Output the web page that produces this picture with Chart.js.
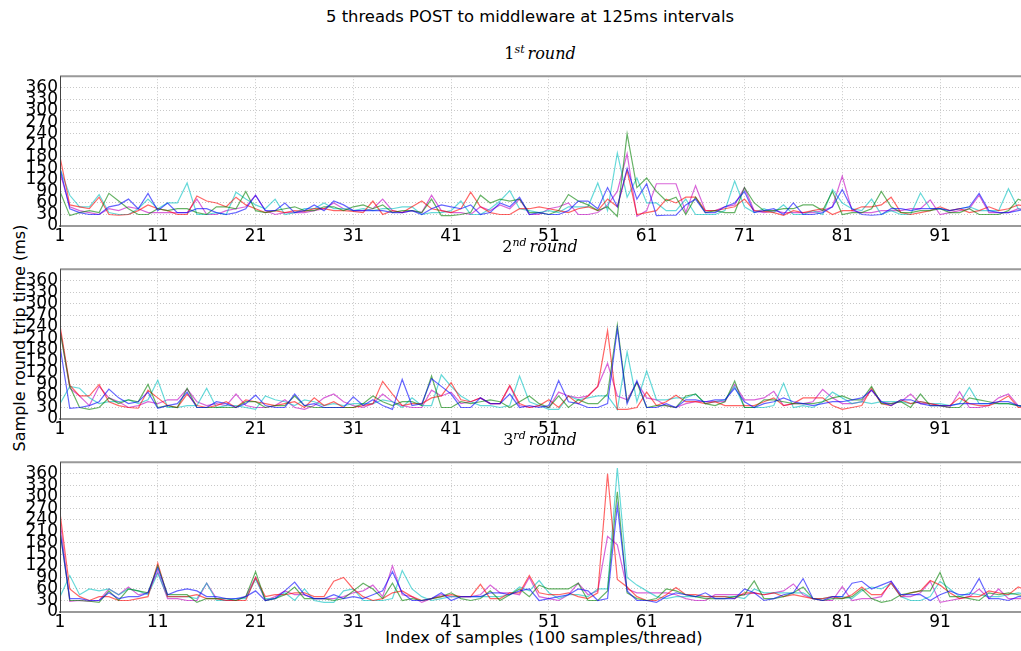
<!DOCTYPE html>
<html>
<head>
<meta charset="utf-8">
<script src="https://cdn.jsdelivr.net/npm/chart.js@4/dist/chart.umd.min.js"></script>
<style>
html,body{margin:0;padding:0;width:1021px;height:651px;overflow:hidden;background:#fff;}
.t{position:absolute;white-space:nowrap;color:#000;font-family:"DejaVu Sans",sans-serif;}
.sub{position:absolute;white-space:nowrap;color:#000;font-family:"DejaVu Serif",serif;font-size:16px;transform:translateX(-50%);}
.sub i{font-style:italic;}
.sub sup{font-size:11px;font-style:italic;vertical-align:6px;margin-right:3px;}
.wrap{position:absolute;left:0;width:1028px;}
</style>
</head>
<body>
<script>
// ---------- data ----------
const sampleIndex = Array.from({length:100},(_,i)=>i+1);
const xTickValues = [1,11,21,31,41,51,61,71,81,91];
const yTickValues = [0,30,60,90,120,150,180,210,240,270,300,330,360];
const roundTitles = ["1","2","3"];
const roundSuffix = ["st","nd","rd"];

// round 1
const r1_blue = [150,45,35,30,30,50,55,70,45,85,40,60,35,35,45,45,35,30,35,45,80,40,40,60,35,40,55,40,65,55,40,40,40,40,35,35,40,30,45,55,50,45,55,30,35,60,50,75,30,35,30,30,40,65,65,45,100,50,150,70,110,27,28,28,55,70,35,35,50,60,90,35,40,45,30,60,30,30,35,50,95,45,30,28,30,45,45,40,45,45,45,40,45,50,85,40,35,35,40,45];
const r1_green = [90,27,35,40,35,85,65,45,30,30,45,40,45,45,35,30,50,50,45,90,40,35,40,45,50,40,40,50,50,40,50,55,45,55,35,40,40,35,70,27,27,30,35,80,60,70,65,70,35,35,30,40,82,65,55,40,50,25,240,100,125,90,65,75,30,75,35,40,35,35,100,60,40,40,45,45,55,55,40,90,30,35,35,45,90,50,35,35,40,40,45,35,35,45,30,30,30,40,70,60];
const r1_red = [180,55,50,45,75,30,28,30,40,55,45,40,30,30,78,65,60,50,75,55,45,35,40,35,40,38,45,45,40,40,38,35,65,30,40,35,50,65,45,40,35,45,88,50,35,30,30,45,45,50,45,40,35,45,50,40,70,50,145,30,35,40,70,60,75,75,40,40,45,50,70,40,38,35,28,40,35,40,45,30,40,40,50,50,55,75,35,30,35,40,50,40,45,35,40,50,40,45,55,50];
const r1_cyan = [150,80,50,50,82,35,30,30,45,70,45,60,60,112,30,30,35,30,88,70,55,45,70,30,35,45,45,60,45,45,40,45,40,45,45,50,50,30,35,35,40,65,30,30,45,65,92,45,40,35,40,35,50,50,50,112,40,190,75,125,60,60,40,40,70,30,30,30,40,117,50,35,45,35,55,30,30,40,30,95,60,45,40,70,30,40,30,30,86,45,45,40,45,50,40,40,40,97,45,40];
const r1_magenta = [140,50,40,35,30,45,40,50,45,35,35,35,35,35,70,30,30,40,45,50,80,40,30,35,35,35,40,45,60,45,40,40,45,70,40,35,40,35,80,40,35,35,30,50,40,55,45,70,30,30,45,50,60,30,30,35,55,90,188,25,40,110,110,110,35,105,40,40,50,55,100,40,35,40,35,35,35,35,40,50,130,40,35,35,40,40,40,45,45,68,30,35,40,45,80,35,35,35,45,40];

// round 2
const r2_blue = [190,28,30,35,45,78,55,40,45,70,28,35,40,70,30,30,45,40,30,40,62,35,30,30,65,35,40,30,30,30,58,35,50,35,25,103,35,40,105,85,65,30,30,55,40,40,65,30,35,30,35,100,45,40,30,30,40,235,40,100,30,30,40,30,50,50,45,50,50,80,45,30,40,45,55,45,40,35,40,45,45,50,55,75,45,35,50,50,40,35,35,35,40,40,40,40,45,45,35,30];
const r2_green = [230,85,30,25,30,55,40,50,45,90,30,35,30,80,30,30,30,30,30,45,45,30,35,35,60,35,30,30,30,30,30,40,60,45,35,45,45,35,112,30,30,45,40,45,50,45,30,45,60,40,30,60,30,50,40,40,65,245,45,95,30,35,35,30,60,65,40,35,45,99,30,30,50,50,45,40,40,40,45,55,60,50,50,85,40,40,45,30,65,35,35,30,30,55,50,45,40,40,35,30];
const r2_red = [244,88,60,60,90,45,35,30,28,75,55,35,30,65,35,30,35,45,30,50,45,40,35,40,45,30,55,35,45,30,30,35,40,98,65,35,40,40,55,60,95,50,45,55,40,40,88,40,30,35,50,30,60,40,60,85,230,25,25,30,70,35,45,62,45,45,40,45,35,35,35,35,45,55,35,40,55,55,55,35,25,30,35,80,40,35,50,40,45,40,35,35,55,40,35,35,45,60,30,30];
const r2_cyan = [40,85,80,55,40,45,45,50,40,50,101,30,30,35,35,80,30,35,35,30,25,60,50,45,35,50,45,35,40,35,40,40,40,50,45,30,55,35,35,115,85,60,45,35,35,30,35,112,45,35,25,25,60,50,55,60,60,25,175,45,125,50,50,55,55,65,40,45,50,85,30,30,30,35,93,30,35,30,45,70,55,40,45,40,45,45,45,40,45,40,40,35,40,82,40,40,40,40,35,35];
const r2_magenta = [235,80,60,35,85,55,45,30,35,45,40,50,50,78,45,35,40,35,65,35,30,30,35,50,30,25,35,55,65,45,35,30,40,65,45,35,30,30,75,60,70,40,45,55,40,40,85,35,30,35,30,70,60,55,60,85,145,60,50,95,55,50,35,30,40,45,45,45,45,90,50,50,55,72,35,40,40,45,77,55,40,40,45,75,45,40,45,65,40,40,35,30,71,30,30,35,55,65,35,30];

// round 3
const r3_blue = [210,35,35,30,30,50,35,40,40,50,115,45,55,60,55,40,40,35,35,40,55,30,35,55,78,45,35,35,45,35,40,35,45,55,105,50,30,30,35,50,30,40,40,40,50,50,45,55,60,30,35,40,45,60,55,30,35,277,55,30,30,25,40,50,45,40,50,35,35,35,60,50,30,35,45,50,87,35,30,40,40,75,80,60,70,80,45,45,45,30,45,55,45,45,87,35,35,30,40,40];
const r3_green = [210,30,30,28,25,55,30,60,55,50,120,45,45,45,25,35,35,35,30,40,105,30,35,45,65,35,35,35,30,35,55,75,60,35,75,30,35,30,35,40,50,35,30,35,55,30,45,60,40,70,60,60,60,75,30,30,55,313,50,35,30,35,60,55,45,40,35,35,35,40,45,81,35,35,40,50,65,35,30,35,35,40,60,35,25,30,45,50,55,55,103,40,40,35,30,50,45,50,45,40];
const r3_red = [259,60,40,30,40,40,30,30,35,40,127,40,40,40,45,35,35,30,30,30,90,40,45,45,50,50,40,40,80,90,60,40,30,35,50,55,40,30,35,40,45,40,40,72,35,35,50,50,95,50,45,45,50,40,35,50,360,85,65,40,30,30,45,64,45,45,40,40,40,35,50,50,45,50,40,45,40,35,35,40,35,45,65,45,45,75,40,50,55,82,70,50,35,40,40,55,50,45,65,55];
const r3_cyan = [40,95,45,60,55,60,45,60,55,45,100,40,40,40,35,75,30,30,35,35,85,35,35,50,30,60,30,25,25,55,60,30,30,30,35,108,60,40,30,35,40,40,40,40,40,40,45,65,55,82,50,35,45,45,40,60,60,375,90,70,55,40,35,40,40,40,40,40,40,40,35,60,50,50,50,50,50,35,35,40,40,35,55,65,60,75,40,30,30,40,80,60,40,50,45,40,40,45,50,45];
const r3_magenta = [240,28,30,28,30,60,45,65,45,50,105,35,35,30,30,75,35,30,30,40,90,30,40,55,45,45,35,35,35,40,50,55,70,40,120,45,40,25,35,45,40,40,40,45,70,50,50,45,90,40,35,30,45,75,45,55,197,175,60,50,50,50,50,45,35,30,30,45,45,45,45,50,45,50,55,73,45,35,30,30,66,30,35,35,40,80,40,40,50,80,25,30,35,40,60,35,60,35,35,35];

// ---------- layout / style ----------
const seriesColors = ["rgba(0,0,255,0.6)","rgba(0,128,0,0.6)","rgba(255,0,0,0.6)","rgba(0,191,191,0.6)","rgba(191,0,191,0.6)"];
const rounds = [
  [r1_blue,r1_green,r1_red,r1_cyan,r1_magenta],
  [r2_blue,r2_green,r2_red,r2_cyan,r2_magenta],
  [r3_blue,r3_green,r3_red,r3_cyan,r3_magenta]
];
const plotTops = [65,258,451];
const plotH = 161;
const tickFont = {family:"DejaVu Sans", size:17};

function addText(cls, html, style){
  const d=document.createElement('div');
  d.className=cls; d.innerHTML=html;
  Object.assign(d.style, style);
  document.body.appendChild(d);
  return d;
}

addText('t','5 threads POST to middleware at 125ms intervals',{left:'530px',top:'7px',fontSize:'16.4px',transform:'translateX(-50%)'});
addText('t','Index of samples (100 samples/thread)',{left:'544px',top:'628px',fontSize:'16.2px',transform:'translateX(-50%)'});
addText('t','Sample round trip time (ms)',{left:'19px',top:'338px',fontSize:'16px',transform:'translate(-50%,-50%) rotate(-90deg)'});

const framePlugin = {
  id:'frame',
  afterDraw(chart){
    const {ctx, chartArea:a} = chart;
    ctx.save();
    ctx.strokeStyle='#999'; ctx.lineWidth=2;
    ctx.beginPath(); ctx.moveTo(a.left, a.top); ctx.lineTo(a.right, a.top); ctx.stroke();
    ctx.strokeStyle='#444'; ctx.lineWidth=1;
    ctx.beginPath(); ctx.moveTo(a.left+0.5, a.top); ctx.lineTo(a.left+0.5, a.bottom); ctx.stroke();
    ctx.restore();
  }
};

rounds.forEach((series, r)=>{
  const top = plotTops[r];
  addText('sub', roundTitles[r]+'<sup>'+roundSuffix[r]+'</sup><i>round</i>', {left:'540px', top:(top-22)+'px'});
  const wrap = document.createElement('div');
  wrap.className='wrap';
  wrap.style.top = (top-1)+'px';
  wrap.style.height = (plotH+1+26)+'px';
  const cv = document.createElement('canvas');
  wrap.appendChild(cv);
  document.body.appendChild(wrap);
  new Chart(cv, {
    type:'line',
    data:{
      datasets: series.map((vals,k)=>({
        data: vals.map((v,i)=>({x:sampleIndex[i], y:v})),
        borderColor: seriesColors[k],
        borderWidth: 1.2,
        pointRadius: 0,
        tension: 0,
        fill: false
      }))
    },
    options:{
      responsive:true, maintainAspectRatio:false, animation:false, events:[],
      layout:{padding:{top:1,left:0,right:0,bottom:0}},
      plugins:{legend:{display:false}, tooltip:{enabled:false}},
      scales:{
        x:{
          type:'linear', min:1, max:100,
          afterBuildTicks(s){ s.ticks = xTickValues.map(v=>({value:v})); },
          afterFit(s){ s.height = 26; },
          ticks:{font:tickFont, color:'#000', padding:0, maxRotation:0, autoSkip:false, callback:v=>String(v)},
          grid:{color:'#c8c8c8', lineWidth:1, drawTicks:false},
          border:{display:true, color:'#999', width:2, dash:[1,2]}
        },
        y:{
          type:'linear', min:0, max:390,
          afterBuildTicks(s){ s.ticks = yTickValues.map(v=>({value:v})); },
          afterFit(s){ s.width = 60; },
          ticks:{font:tickFont, color:'#000', padding:2, autoSkip:false, callback:v=>String(v)},
          grid:{color:'#c8c8c8', lineWidth:1, drawTicks:false},
          border:{display:true, color:'#444', width:1, dash:[1,2]}
        }
      }
    },
    plugins:[framePlugin]
  });
});
</script>
</body>
</html>
